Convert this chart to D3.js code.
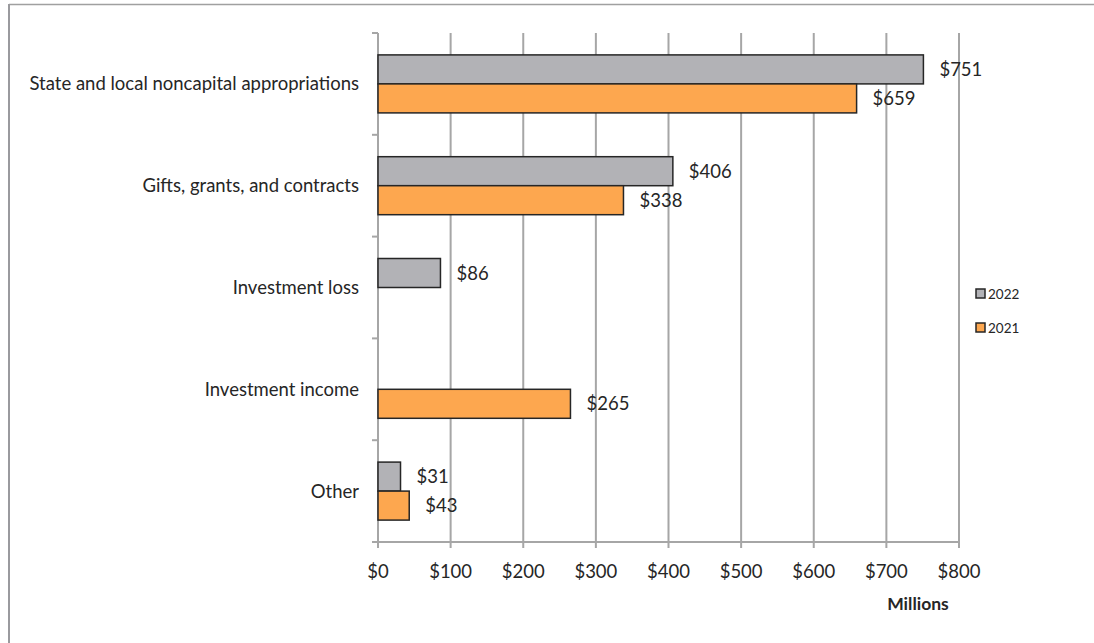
<!DOCTYPE html>
<html><head><meta charset="utf-8">
<script src="https://cdn.jsdelivr.net/npm/d3@7"></script>
<style>body{margin:0;background:#fff}svg{display:block}text{font-family:Lato,"Open Sans",sans-serif;fill:#262626}</style>
</head><body>
<svg id="c" width="1094" height="643"></svg>
<script>
const categories = ["State and local noncapital appropriations","Gifts, grants, and contracts","Investment loss","Investment income","Other"];
const seriesNames = ["2022","2021"];
const values2022 = [751, 406, 86, 0, 31];
const values2021 = [659, 338, 0, 265, 43];
const xTicks = [0,100,200,300,400,500,600,700,800];
const colors = ["#b2b2b6","#fda74f"];

(function(){
const svg = d3.select("#c");
const fs = 18.5;
svg.append("line").attr("x1",9).attr("x2",1094).attr("y1",4.5).attr("y2",4.5).attr("stroke","#a0a0a0").attr("stroke-width",1.5);
svg.append("line").attr("x1",9).attr("x2",9).attr("y1",4).attr("y2",643).attr("stroke","#9a9a9e").attr("stroke-width",2);

const pL = 378, pR = 959, pT = 33, pB = 542;
const x = d3.scaleLinear().domain([0,800]).range([pL,pR]);
const y = d3.scaleBand().domain(categories).range([pT,pB]);
const inner = d3.scaleBand().domain(seriesNames).range([0, 58]);

svg.append("g").selectAll("line").data(xTicks).join("line")
  .attr("x1",d=>x(d)).attr("x2",d=>x(d)).attr("y1",pT).attr("y2",pB+6)
  .attr("stroke","#a6a6a6").attr("stroke-width",2);
svg.append("line").attr("x1",pL).attr("x2",pR).attr("y1",pB).attr("y2",pB).attr("stroke","#a6a6a6").attr("stroke-width",2);
const catEdges = categories.map(c=>y(c)).concat([pB]);
svg.append("g").selectAll("line").data(catEdges).join("line")
  .attr("x1",pL-6).attr("x2",pL).attr("y1",d=>d).attr("y2",d=>d)
  .attr("stroke","#a6a6a6").attr("stroke-width",2);
svg.append("g").selectAll("text").data(xTicks).join("text")
  .attr("x",d=>x(d)).attr("y",578).attr("text-anchor","middle").attr("font-size",fs)
  .text(d=>"$"+d);
svg.append("text").attr("x",918).attr("y",610).attr("text-anchor","middle").attr("font-size",17.5).attr("font-weight","bold").text("Millions");

svg.append("g").selectAll("text").data(categories).join("text")
  .attr("x",359).attr("y",d=>y(d)+y.bandwidth()/2+6.5).attr("text-anchor","end").attr("font-size",fs)
  .text(d=>d);

const series = [values2022, values2021];
series.forEach((vals,si)=>{
  const g = svg.append("g");
  const data = categories.map((c,i)=>({c, v: vals[i]}));
  const off = (y.bandwidth()-58)/2 + inner(seriesNames[si]);
  g.selectAll("rect").data(data.filter(d=>d.v>0)).join("rect")
    .attr("x",x(0)).attr("y",d=>y(d.c)+off).attr("width",d=>x(d.v)-x(0)).attr("height",inner.bandwidth())
    .attr("fill",colors[si]).attr("stroke","#262626").attr("stroke-width",1.5);
  g.selectAll("text").data(data.filter(d=>d.v>0)).join("text")
    .attr("x",d=>x(d.v)+16).attr("y",d=>y(d.c)+off+inner.bandwidth()/2+6.5).attr("font-size",fs)
    .text(d=>"$"+d.v);
});

const lg = svg.append("g");
seriesNames.forEach((s,i)=>{
  const ly = 294 + i*34;
  lg.append("rect").attr("x",976).attr("y",ly-5).attr("width",9).attr("height",9).attr("fill",colors[i]).attr("stroke","#262626").attr("stroke-width",1.5);
  lg.append("text").attr("x",988).attr("y",ly+5).attr("font-size",13.5).text(s);
});
})();
</script>
</body></html>
